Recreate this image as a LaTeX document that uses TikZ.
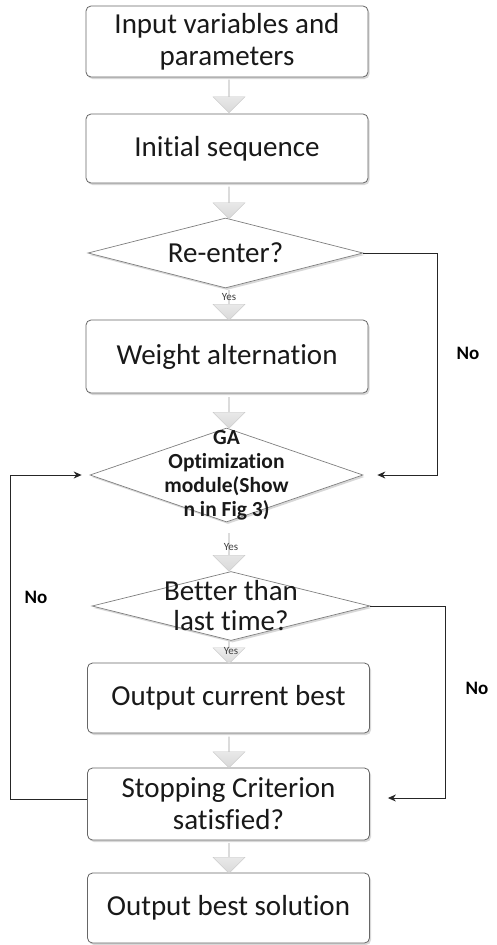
\documentclass[tikz,border=0pt]{standalone}
\usepackage{fontspec}
\setmainfont{Carlito}[Ligatures=NoCommon]
\usetikzlibrary{shapes.geometric,shapes.arrows,shadows,arrows.meta,calc}
\begin{document}
\begin{tikzpicture}[x=1pt,y=-1pt,
  proc/.style={draw=black!60, line width=0.8pt, rounded corners=5pt, fill=white,
    minimum width=282pt, align=center, inner sep=0pt, text=black!90,
    font=\fontsize{29}{32}\selectfont,
    drop shadow={shadow xshift=1.5pt,shadow yshift=-2pt,opacity=0.3}},
  dec/.style={diamond, draw=black!50, line width=0.7pt, fill=white, inner sep=0pt,
    drop shadow={shadow xshift=1.5pt,shadow yshift=-2pt,opacity=0.3}},
  dtext/.style={align=center, text=black!90, font=\fontsize{29}{30}\selectfont},
  blk/.style={single arrow, shape border rotate=270, draw=black!20, line width=0.4pt,
    top color=gray!6, bottom color=gray!30, inner sep=0pt,
    minimum width=32pt, single arrow head extend=7pt, minimum height=#1},
  conn/.style={draw=black!85, line width=0.9pt, -{Stealth[length=8pt,width=7pt]}},
  nolab/.style={font=\bfseries\fontsize{19}{22}\selectfont, text=black},
  yeslab/.style={font=\fontsize{11}{12}\selectfont, text=black!75}
]
\fill[white] (0,0) rectangle (496,945);
\useasboundingbox (0,0) rectangle (496,945);

% process boxes
\node[proc, minimum height=71pt] (b1) at (227,41.5) {Input variables and\\parameters};
\node[proc, minimum height=69pt] (b2) at (227,148.5) {Initial sequence};
\node[dec, minimum width=275pt, minimum height=70pt,
  label={[dtext]center:Re-enter?}] (d1) at (225.5,253) {};
\node[proc, minimum height=73pt] (b3) at (227,356.5) {Weight alternation};
\node[dec, minimum width=273pt, minimum height=94pt,
  label={[align=center, text=black!90, font=\bfseries\fontsize{21.5}{24}\selectfont]center:GA\\Optimization\\module(Show\\n in Fig 3)}] (d2) at (226.5,475) {};
\node[dec, minimum width=278pt, minimum height=69pt,
  label={[dtext]center:Better than\\last time?}] (d3) at (231,606) {};
\node[proc, minimum height=70pt] (b4) at (228.5,698) {Output current best};
\node[proc, minimum height=72pt] (b5) at (228.5,804) {Stopping Criterion\\satisfied?};
\node[proc, minimum height=70pt] (b6) at (228.5,908) {Output best solution};

% block arrows
\node[blk=33pt] (a1) at (229,96) {};
\node[blk=32pt] (a2) at (229,202.5) {};
\node[blk=30pt] (a3) at (229,305) {};
\node[blk=31pt] (a4) at (229,412.5) {};
\node[blk=38pt] (a5) at (229,552) {};
\node[blk=23pt] (a6) at (229,652) {};
\node[blk=31pt] (a7) at (229,752) {};
\node[blk=30pt] (a8) at (229,858) {};
\node[yeslab] (y1) at (229,297) {Yes};
\node[yeslab] (y2) at (231,547) {Yes};
\node[yeslab] (y3) at (231,651) {Yes};

% connectors
\coordinate (r1) at (437,253);
\coordinate (r2) at (445,606);
\coordinate (l1) at (10,799);
\draw[conn, shorten >=14pt] (d1.east) -- (r1) |- (d2.east);
\draw[conn, shorten >=18pt] (d3.east) -- (r2) |- ($(b5.east)+(0,-6)$);
\draw[conn, shorten >=8pt] ($(b5.west)+(0,-5)$) -- (l1) |- (d2.west);

% labels
\node[nolab] (n1) at (468,353) {No};
\node[nolab] (n2) at (36,597) {No};
\node[nolab] (n3) at (477,688) {No};
\end{tikzpicture}
\end{document}
